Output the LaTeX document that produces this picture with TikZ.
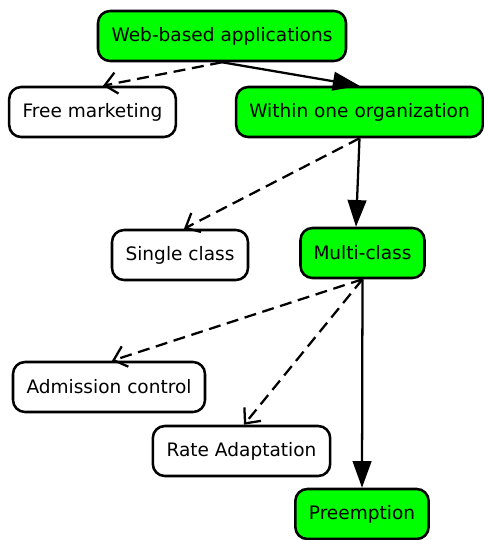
\documentclass[tikz,border=0pt]{standalone}
\usepackage{fontspec}
\setmainfont{DejaVu Sans}
\usetikzlibrary{arrows.meta}

\begin{document}
\begin{tikzpicture}[x=0.75pt, y=-0.75pt,
	box/.style = {draw, line width=1.9pt, rounded corners=9pt, inner sep=0pt,
		minimum height=37.5pt, font=\fontsize{13.9}{16}\selectfont},
	on/.style = {box, fill=green},
	off/.style = {box, fill=white},
	yes/.style = {line width=1.7pt, -{Triangle[length=20pt, width=14pt]}},
	no/.style = {line width=1.7pt, dash pattern=on 9pt off 5pt,
		-{Straight Barb[length=9pt, width=16pt]}}]
	\useasboundingbox (0,0) rectangle (484,540);
	\node[on, minimum width=186pt] (web) at (222,36) {Web-based applications};
	\node[off, minimum width=125pt] (free) at (92.5,112) {Free marketing};
	\node[on, minimum width=185pt] (org) at (359.5,112) {Within one organization};
	\node[off, minimum width=102pt] (single) at (180,255) {Single class};
	\node[on, minimum width=93pt] (multi) at (362.5,253) {Multi-class};
	\node[off, minimum width=144pt] (adm) at (109,387) {Admission control};
	\node[off, minimum width=133pt] (rate) at (241.5,451) {Rate Adaptation};
	\node[on, minimum width=100pt] (pre) at (362,514) {Preemption};
	\draw[no] (web.south) -- (free.north -| 103,0);
	\draw[yes] (web.south) -- (org.north);
	\draw[no] (org.south) -- (single.north -| 184,0);
	\draw[yes] (org.south) -- (multi.north -| 356,0);
	\draw[no] (multi.south) -- (adm.north -| 112,0);
	\draw[no] (multi.south) -- (rate.north -| 244,0);
	\draw[yes] (multi.south) -- (pre.north);
\end{tikzpicture}
\end{document}
